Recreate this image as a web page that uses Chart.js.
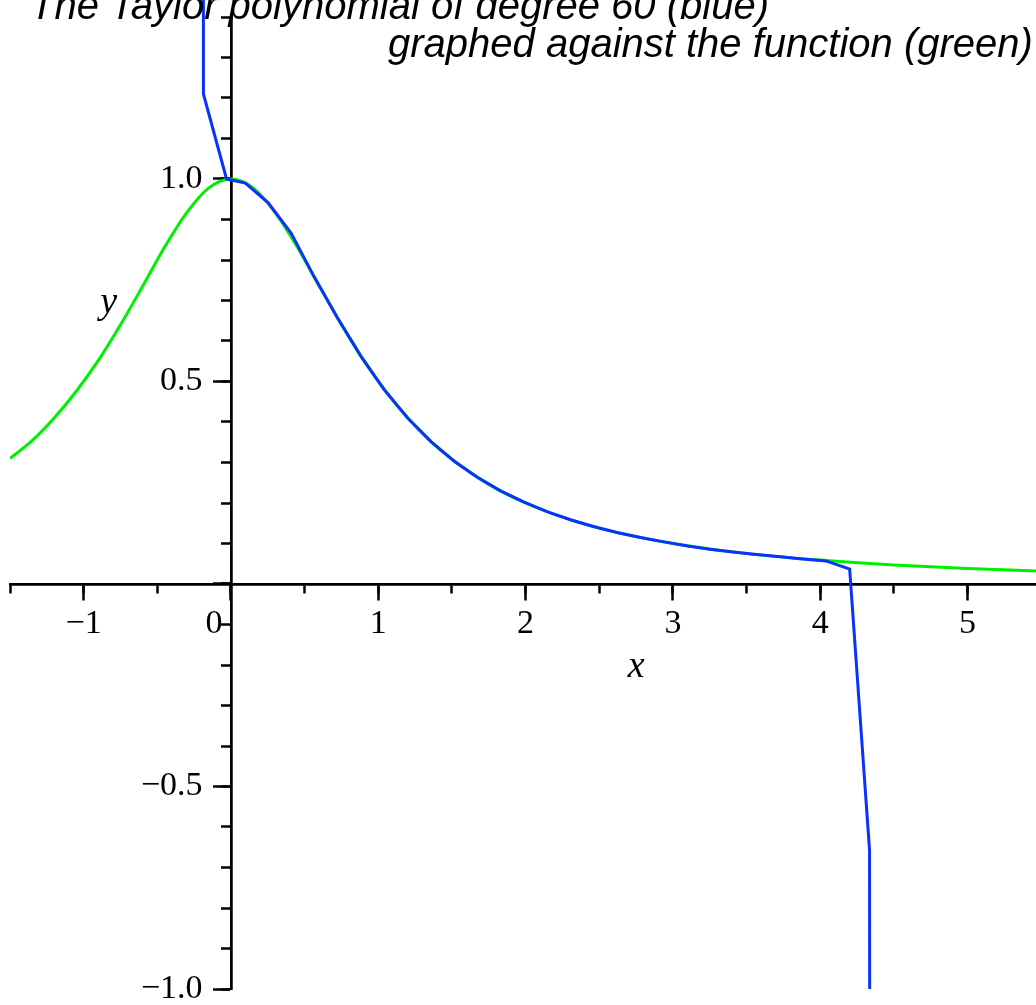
<!DOCTYPE html>
<html>
<head>
<meta charset="utf-8">
<title>Taylor polynomial against the function</title>
<script src="https://cdn.jsdelivr.net/npm/chart.js@4.4.1/dist/chart.umd.min.js"></script>
<style>
  html, body { margin: 0; padding: 0; background: #fff; overflow: hidden; }
  #wrap { position: absolute; left: 0; top: -23px; width: 1036px; height: 1042px; }
</style>
</head>
<body>
<div id="wrap"><canvas id="taylorChart"></canvas></div>
<script>
// the function (green)
const greenX = [-1.5, -1.35, -1.2, -1.05, -0.9, -0.75, -0.6, -0.45, -0.3, -0.15, 0, 0.15, 0.3, 0.45, 0.6, 0.75, 0.9,
    1.05, 1.2, 1.35, 1.5, 1.75, 2, 2.25, 2.5, 2.75, 3, 3.5, 4, 4.5, 5, 5.5];
const greenY = [0.31, 0.354, 0.41, 0.476, 0.552, 0.64, 0.735, 0.832, 0.917, 0.978, 1.0, 0.978, 0.917, 0.832, 0.735, 0.64, 0.552,
    0.476, 0.41, 0.354, 0.308, 0.246, 0.2, 0.165, 0.138, 0.117, 0.1, 0.075, 0.059, 0.047, 0.038, 0.032];

// the Taylor polynomial (blue), same way
const blueX = [-0.188, -0.187, -0.03, 0.098, 0.253, 0.409, 0.564, 0.72, 0.88, 1.04, 1.2, 1.36, 1.52, 1.67, 1.83, 1.99,
    2.15, 2.31, 2.46, 2.62, 2.78, 2.94, 3.1, 3.25, 3.41, 3.57, 3.73, 3.88, 4.04, 4.2, 4.335, 4.34];
const blueY = [2.2, 1.21, 1.0, 0.99, 0.941, 0.866, 0.759, 0.659, 0.564, 0.48, 0.41, 0.351, 0.302, 0.264, 0.23, 0.202,
    0.178, 0.158, 0.142, 0.127, 0.115, 0.104, 0.094, 0.086, 0.079, 0.073, 0.067, 0.062, 0.057, 0.037, -0.657, -3.0];

// axes
const xRange = [-1.5, 5.465];
const yRange = [-1.0, 1.4];
const xMajorTicks = [-1, 0, 1, 2, 3, 4, 5];
const xMinorTicks = [-1.5, -1, -0.5, 0, 0.5, 1, 1.5, 2, 2.5, 3, 3.5, 4, 4.5, 5];
const yMajorTicks = [-1.0, -0.5, 0, 0.5, 1.0];
const yMinorTicks = [-1.0, -0.9, -0.8, -0.7, -0.6, -0.5, -0.4, -0.3, -0.2, -0.1, 0, 0.1, 0.2, 0.3, 0.4, 0.5,
    0.6, 0.7, 0.8, 0.9, 1.0, 1.1, 1.2, 1.3, 1.4];

const titleLines = ["The Taylor polynomial of degree 60 (blue)", "graphed against the function (green)"];

const tickFont = { family: "'Liberation Serif', 'Times New Roman', serif", size: 34 };

function points(xs, ys) {
    return xs.map(function (x, i) { return { x: x, y: ys[i] }; });
}

function setTicks(list) {
    return function (axis) {
        axis.ticks = list.map(function (v) { return { value: v }; });
    };
}

// maple style minus sign
function signed(v, digits) {
    const s = Math.abs(v).toFixed(digits);
    return v < 0 ? "\u2212" + s : s;
}

// axis line + tick marks, shared by all four scales
function axisScale(axis, pos, range, ticks, len, labels) {
    return {
        type: "linear",
        axis: axis,
        position: pos,
        min: range[0],
        max: range[1],
        afterBuildTicks: setTicks(ticks),
        grid: { drawOnChartArea: false, drawTicks: true, tickLength: len, tickWidth: 2.5, tickColor: "#000" },
        border: { display: true, color: "#000", width: 2.5 },
        ticks: labels || { display: false }
    };
}

//plot title and the x / y names
const plotText = {
    id: "plotText",
    afterDraw: function (chart) {
        const ctx = chart.ctx;
        const sx = chart.scales.x;
        const sy = chart.scales.y;
        ctx.save();
        ctx.fillStyle = "#000";
        ctx.textBaseline = "alphabetic";
        ctx.textAlign = "left";
        ctx.font = "italic 40px 'Liberation Sans', Arial, sans-serif";
        ctx.fillText(titleLines[0], 30, 42);
        ctx.fillText(titleLines[1], 388, 80);
        ctx.textAlign = "center";
        ctx.font = "italic 38px 'Liberation Serif', 'Times New Roman', serif";
        ctx.fillText("x", sx.getPixelForValue(2.75), sy.getPixelForValue(0) + 93);
        ctx.fillText("y", sx.getPixelForValue(-0.83), sy.getPixelForValue(0.67));
        ctx.restore();
    }
};

new Chart("taylorChart", {
    type: "line",
    data: {
        datasets: [{
            label: "Taylor polynomial",
            data: points(blueX, blueY),
            borderColor: "#0a32ff",
            borderWidth: 3,
            lineTension: 0,
            fill: false,
            clip: { left: 0, top: false, right: 0, bottom: 0 }
        }, {
            label: "function",
            data: points(greenX, greenY),
            borderColor: "#00f000",
            borderWidth: 3,
            cubicInterpolationMode: "monotone",
            fill: false
        }]
    },
    options: {
        responsive: true,
        maintainAspectRatio: false,
        animation: false,
        layout: { padding: { left: 10, right: 0, top: 40, bottom: 30 } },
        elements: { point: { radius: 0 } },
        plugins: { legend: { display: false }, tooltip: { enabled: false } },
        scales: {
            x: axisScale("x", { y: 0 }, xRange, xMajorTicks, 15, {
                autoSkip: false, maxRotation: 0, padding: 5, color: "#000", font: tickFont,
                callback: function (v) { return v === 0 ? "0    " : signed(v, 0); }
            }),
            xMinor: axisScale("x", { y: 0 }, xRange, xMinorTicks, 8),
            y: axisScale("y", { x: 0 }, yRange, yMajorTicks, 17, {
                autoSkip: false, padding: 0, color: "#000", font: tickFont,
                callback: function (v) { return v === 0 ? "" : signed(v, 1) + "   \u200a"; }
            }),
            yMinor: axisScale("y", { x: 0 }, yRange, yMinorTicks, 9)
        }
    },
    plugins: [plotText]
});
</script>
</body>
</html>
